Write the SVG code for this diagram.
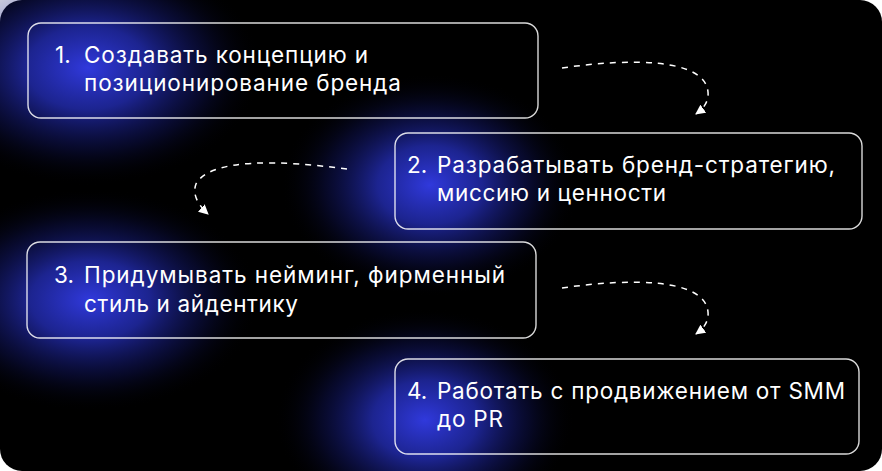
<svg xmlns="http://www.w3.org/2000/svg" width="882" height="471" viewBox="0 0 882 471">
<defs>
<radialGradient id="glow" cx="0.5" cy="0.5" r="0.5">
<stop offset="0" stop-color="#3039dc" stop-opacity="1"/>
<stop offset="0.35" stop-color="#2630c0" stop-opacity="0.75"/>
<stop offset="0.7" stop-color="#161c80" stop-opacity="0.3"/>
<stop offset="1" stop-color="#000" stop-opacity="0"/>
</radialGradient>
<marker id="ah" viewBox="0 0 10 10" refX="9" refY="5" markerWidth="10" markerHeight="10" markerUnits="userSpaceOnUse" orient="auto">
<path d="M0,0 L10,5 L0,10 z" fill="#fff"/>
</marker>
<style>
.box{fill:none;stroke:#fff;stroke-opacity:0.85;stroke-width:1.4}
.t{font-family:Inter,"Noto Sans",sans-serif;font-size:22.5px;fill:#fff}
.c{fill:none;stroke:#fff;stroke-width:1.5;stroke-dasharray:6 6;marker-end:url(#ah)}
</style>
</defs>
<rect x="0" y="0" width="882" height="471" rx="22" fill="#000"/>
<g id="glows">
<ellipse cx="88" cy="68" rx="175" ry="118" fill="url(#glow)"/>
<ellipse cx="430" cy="185" rx="150" ry="112" fill="url(#glow)"/>
<ellipse cx="90" cy="300" rx="170" ry="112" fill="url(#glow)"/>
<ellipse cx="425" cy="420" rx="150" ry="112" fill="url(#glow)"/>
</g>
<g id="connectors">
<path class="c" d="M562,68 C630,58 705,58 708,92 C709,102 703,109 696,114"/>
<path class="c" d="M347,169 C280,160 210,158 196,184 C192,194 198,205 208,214"/>
<path class="c" d="M562,288 C630,278 705,278 708,312 C709,322 703,329 696,334"/>
</g>
<g id="node1">
<rect class="box" x="28" y="23" width="510" height="95" rx="13"/>
<text class="t" y="63"><tspan x="55">1.</tspan><tspan x="84" textLength="284" lengthAdjust="spacing">Создавать концепцию и</tspan></text>
<text class="t" x="84" y="91" textLength="317" lengthAdjust="spacing">позиционирование бренда</text>
</g>
<g id="node2">
<rect class="box" x="395" y="133" width="467" height="96" rx="13"/>
<text class="t" y="173"><tspan x="407">2.</tspan><tspan x="437" textLength="398" lengthAdjust="spacing">Разрабатывать бренд-стратегию,</tspan></text>
<text class="t" x="437" y="201" textLength="229" lengthAdjust="spacing">миссию и ценности</text>
</g>
<g id="node3">
<rect class="box" x="27" y="242" width="509" height="96" rx="13"/>
<text class="t" y="283"><tspan x="54">3.</tspan><tspan x="84" textLength="421" lengthAdjust="spacing">Придумывать нейминг, фирменный</tspan></text>
<text class="t" x="84" y="312" textLength="214" lengthAdjust="spacing">стиль и айдентику</text>
</g>
<g id="node4">
<rect class="box" x="395" y="359" width="464" height="95" rx="13"/>
<text class="t" y="399"><tspan x="407">4.</tspan><tspan x="437" textLength="408" lengthAdjust="spacing">Работать с продвижением от SMM</tspan></text>
<text class="t" x="437" y="427" textLength="66" lengthAdjust="spacing">до PR</text>
</g>
</svg>
